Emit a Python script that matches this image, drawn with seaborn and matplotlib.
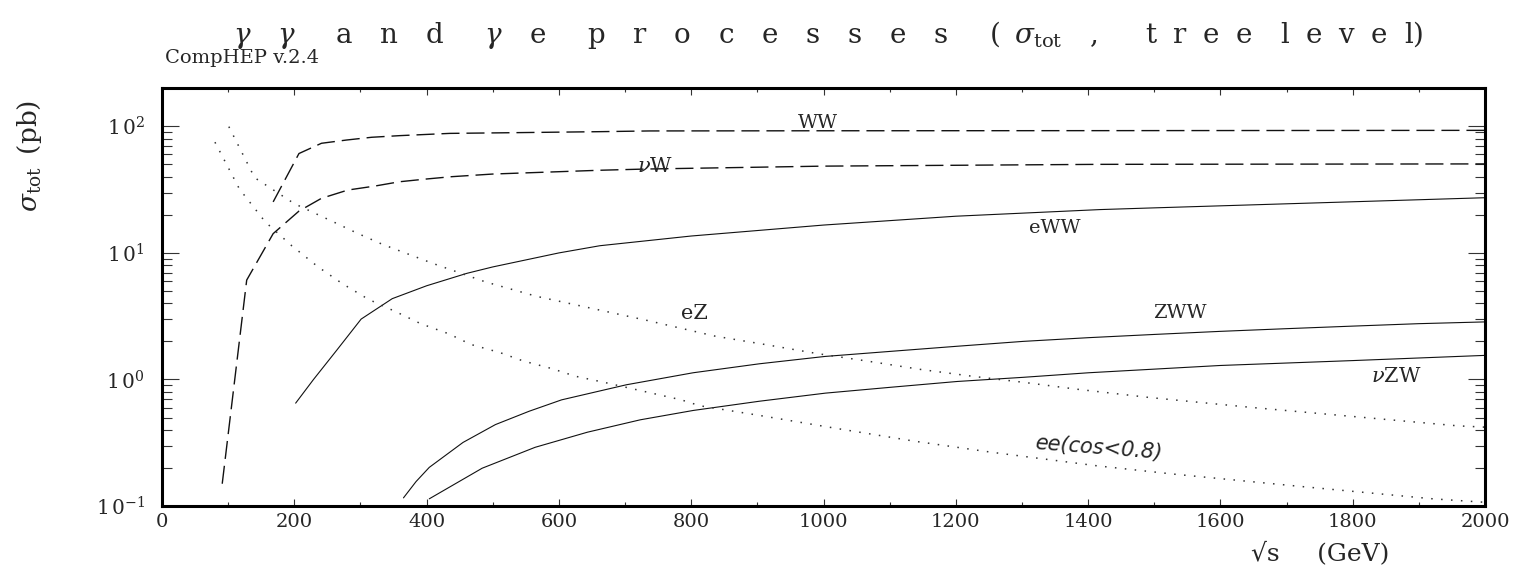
import matplotlib
matplotlib.use("Agg")
import pandas as pd
import matplotlib.pyplot as plt
import seaborn as sns
from matplotlib.ticker import MultipleLocator, LogLocator, NullFormatter

# sqrt(s) in GeV and sigma_tot in pb
ww_x = [168, 207, 241, 279, 317, 360, 435, 520, 662, 737, 1000, 1418, 2000]
ww_y = [25.3, 61, 73.5, 78, 82, 84.5, 88, 89, 90.8, 92, 92.3, 92.5, 93]

nuw_x = [91, 128, 168, 207, 241, 281, 321, 359, 398, 437, 500, 662, 731, 1000, 1418, 2000]
nuw_y = [0.15, 6.1, 14.2, 21.4, 27, 31.4, 33.7, 36.5, 38.3, 40, 42, 45, 46, 48.5, 50.1, 50.5]

eww_x = [202, 229, 264, 301, 348, 400, 461, 500, 600, 662, 800, 1000, 1200, 1418, 1500, 2000]
eww_y = [0.65, 1.0, 1.7, 3.0, 4.35, 5.5, 6.9, 7.75, 10.0, 11.4, 13.6, 16.6, 19.5, 22.0, 22.7, 27.3]

zww_x = [365, 384, 404, 455, 504, 555, 604, 702, 803, 903, 1002, 1103, 1202, 1302, 1401,
         1501, 1600, 1700, 1800, 1900, 2000]
zww_y = [0.116, 0.156, 0.202, 0.318, 0.44, 0.561, 0.69, 0.908, 1.13, 1.33, 1.52, 1.67, 1.83,
         2.0, 2.14, 2.27, 2.40, 2.52, 2.64, 2.76, 2.85]

nuzw_x = [404, 484, 564, 643, 723, 803, 903, 1003, 1103, 1202, 1302, 1401, 1600, 1800, 2000]
nuzw_y = [0.114, 0.199, 0.291, 0.383, 0.48, 0.569, 0.673, 0.78, 0.869, 0.964, 1.04, 1.13,
          1.29, 1.41, 1.55]

ez_x = [101, 140, 200, 256, 294, 333, 410, 489, 566, 605, 733, 836, 914, 991, 1069, 1147,
        1225, 1302, 1381, 1493, 1649, 1800, 1959, 2000]
ez_y = [99.5, 39.3, 24.5, 17.9, 14.4, 11.7, 8.24, 5.9, 4.54, 4.1, 2.93, 2.2, 1.88, 1.6, 1.39,
        1.2, 1.06, 0.95, 0.84, 0.72, 0.60, 0.51, 0.43, 0.42]

ee_x = [80, 117, 156, 196, 236, 273, 312, 355, 391, 433, 467, 511, 546, 589, 625, 668, 785,
        813, 903, 1020, 1138, 1254, 1413, 1528, 1726, 1921, 2000]
ee_y = [75, 32, 17.6, 11.4, 7.75, 5.7, 4.3, 3.4, 2.76, 2.3, 1.89, 1.63, 1.4, 1.22, 1.06, 0.95,
        0.69, 0.62, 0.52, 0.41, 0.325, 0.266, 0.208, 0.179, 0.142, 0.114, 0.107]

x_ticks = [0, 200, 400, 600, 800, 1000, 1200, 1400, 1600, 1800, 2000]
y_ticks = [0.1, 1, 10, 100]
y_ticklabels = [r"$1\,0^{-1}$", r"$1\,0^{0}$", r"$1\,0^{1}$", r"$1\,0^{2}$"]

sns.set_style("ticks")
plt.rcParams["font.family"] = ["DejaVu Serif"]
plt.rcParams["mathtext.fontset"] = "dejavuserif"

fig = plt.figure(figsize=(15.3, 5.71), dpi=100)
ax = fig.add_axes([0.1059, 0.1138, 0.8647, 0.7321])

dashed = (0, (13, 5))
dotted = (0, (1, 5.5))
curves = [
    (ww_x, ww_y, dashed, 1.0, "#111111"),
    (nuw_x, nuw_y, dashed, 1.0, "#111111"),
    (eww_x, eww_y, "-", 0.8, "#111111"),
    (zww_x, zww_y, "-", 0.8, "#111111"),
    (nuzw_x, nuzw_y, "-", 0.8, "#111111"),
    (ez_x, ez_y, dotted, 1.1, "#333333"),
    (ee_x, ee_y, dotted, 1.1, "#333333"),
]
for xs, ys, ls, lw, c in curves:
    d = pd.DataFrame({"sqrt_s": xs, "sigma": ys})
    sns.lineplot(data=d, x="sqrt_s", y="sigma", ax=ax, color=c, linestyle=ls,
                 linewidth=lw, sort=False, estimator=None)

ax.set_yscale("log")
ax.set_xlim(0, 2000)
ax.set_ylim(0.1, 201)
ax.set_xticks(x_ticks)
ax.set_xticklabels([str(t) for t in x_ticks])
ax.xaxis.set_minor_locator(MultipleLocator(100))
ax.set_yticks(y_ticks)
ax.set_yticklabels(y_ticklabels)
ax.yaxis.set_minor_locator(LogLocator(base=10, subs=range(2, 10)))
ax.yaxis.set_minor_formatter(NullFormatter())
ax.tick_params(which="both", direction="in", top=True, right=True, color="#333333")
ax.tick_params(axis="x", which="major", length=5, width=0.8, pad=5, labelsize=14)
ax.tick_params(axis="x", which="minor", length=3, width=0.8)
ax.tick_params(axis="y", which="major", length=12, width=0.8, pad=12, labelsize=14.5)
ax.tick_params(axis="y", which="minor", length=7, width=0.8)
for s in ax.spines.values():
    s.set_linewidth(2.2)
    s.set_color("black")
ax.set_xlabel("")
ax.set_ylabel("")

# curve labels
ax.text(991, 106, "WW", ha="center", va="center", fontsize=14)
ax.text(745, 48.6, r"$\nu$W", ha="center", va="center", fontsize=15)
ax.text(1350, 15.7, "eWW", ha="center", va="center", fontsize=14)
ax.text(805, 3.31, "eZ", ha="center", va="center", fontsize=15)
ax.text(1538, 3.35, "ZWW", ha="center", va="center", fontsize=14)
ax.text(1866, 1.06, r"$\nu$ZW", ha="center", va="center", fontsize=15)
ax.text(1416, 0.289, "ee(cos<0.8)", ha="center", va="center", fontsize=15,
        rotation=-4.5, family=["DejaVu Sans"], style="italic")

sp = "\u2002"
nar = sp + "\u200a"
g = r"$\gamma$"
title = (g + sp * 2 + g + sp * 3 + (sp * 2).join("and") + sp * 3 + g + sp * 2 + "e" + sp * 3
         + (sp * 2).join("processes") + sp * 3 + "(" + sp + r"$\sigma_{\rm tot}$" + sp * 2 + ","
         + sp * 3 + "\u2009" + nar.join("tree") + sp * 2 + nar.join("level") + ")")
fig.text(0.152, 0.938, title, ha="left", va="center", fontsize=20)
fig.text(0.108, 0.898, "CompHEP v.2.4", ha="left", va="center", fontsize=14)
fig.text(0.0196, 0.727, r"$\sigma_{\rm tot}$" + sp + "(pb)", rotation=90, ha="center",
         va="center", fontsize=19)
fig.text(0.8627, 0.0315, "\u221as" + sp * 3 + "(GeV)", ha="center", va="center", fontsize=18)

fig.savefig("out.png", dpi=100)
